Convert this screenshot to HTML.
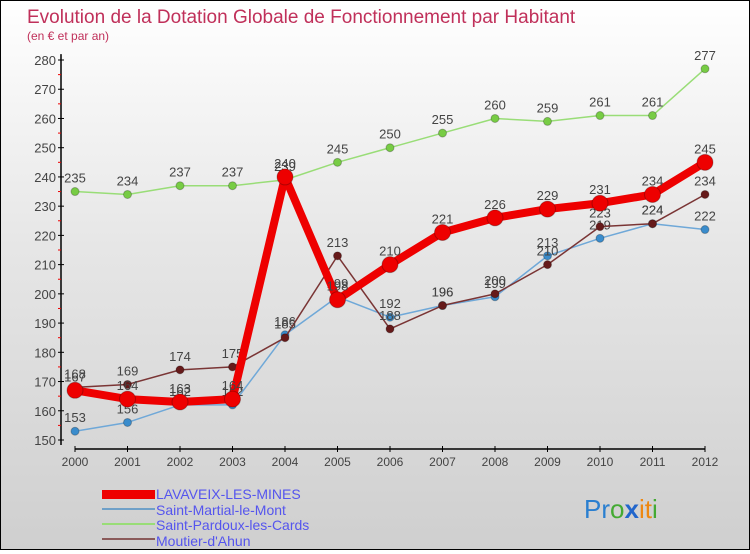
<!DOCTYPE html>
<html><head><meta charset="utf-8">
<style>
html,body{margin:0;padding:0}
body{width:750px;height:550px;overflow:hidden;font-family:"Liberation Sans",sans-serif}
#wrap{position:relative;width:748px;height:548px;border:1px solid #000;background:linear-gradient(#ffffff 0%,#e6e6e6 45%,#cfcfcf 100%)}
svg text{font-family:"Liberation Sans",sans-serif}
</style></head>
<body>
<div id="wrap">
<svg id="chart" width="748" height="548" xmlns="http://www.w3.org/2000/svg">
<text x="26" y="22" font-size="19" fill="#c0305a">Evolution de la Dotation Globale de Fonctionnement par Habitant</text>
<text x="26" y="39" font-size="12" fill="#c0305a">(en € et par an)</text>
<g id="axes"></g>
<g id="series"></g>
<g id="legend">
<rect x="101" y="489" width="53" height="9" fill="#e00"/>
<text x="155" y="498" font-size="14" fill="#5555ee">LAVAVEIX-LES-MINES</text>
<rect x="101" y="507" width="53" height="2" fill="#6fa0c8"/>
<text x="155" y="514" font-size="14" fill="#5555ee">Saint-Martial-le-Mont</text>
<rect x="101" y="522" width="53" height="2" fill="#99dd77"/>
<text x="155" y="529" font-size="14" fill="#5555ee">Saint-Pardoux-les-Cards</text>
<rect x="101" y="537" width="53" height="2" fill="#8a5a5a"/>
<text x="155" y="545" font-size="14" fill="#5555ee">Moutier-d'Ahun</text>
</g>
<text x="583" y="517" font-size="26"><tspan fill="#2a7fd0">Pr</tspan><tspan fill="#44aa33">o</tspan><tspan fill="#2266cc" font-weight="bold">x</tspan><tspan fill="#ee8811">it</tspan><tspan fill="#44aa33">i</tspan></text>
</svg>
</div>
<script>
const years=["2000","2001","2002","2003","2004","2005","2006","2007","2008","2009","2010","2011","2012"];
const lavaveix=[167,164,163,164,240,198,210,221,226,229,231,234,245];
const saintMartial=[153,156,162,162,186,199,192,196,199,213,219,224,222];
const saintPardoux=[235,234,237,237,239,245,250,255,260,259,261,261,277];
const moutier=[168,169,174,175,185,213,188,196,200,210,223,224,234];
const yTicks=[150,160,170,180,190,200,210,220,230,240,250,260,270,280];
const NS="http://www.w3.org/2000/svg";
function X(i){return 74+i*52.5;}
function Y(v){return 439-(v-150)*2.923;}
function mk(tag,attrs,parent){const e=document.createElementNS(NS,tag);for(const k in attrs)e.setAttribute(k,attrs[k]);parent.appendChild(e);return e;}
const axes=document.getElementById('axes');
const ax=mk('line',{x1:60,y1:Y(282),x2:60,y2:444,stroke:'#000','stroke-width':1.5},axes);


const xx=mk('line',{x1:74,y1:448,x2:X(12),y2:448,stroke:'#000','stroke-width':1.5},axes);


yTicks.forEach(v=>{
  mk('line',{x1:57,y1:Y(v),x2:63,y2:Y(v),stroke:'#000'},axes);
  if(v<280)mk('line',{x1:57,y1:Y(v+5),x2:60,y2:Y(v+5),stroke:'#e00'},axes);
  const t=mk('text',{x:55,y:Y(v)+5,'text-anchor':'end','font-size':13,fill:'#444'},axes);
  t.textContent=v;
  
  
});
years.forEach((y,i)=>{
  mk('line',{x1:X(i),y1:445,x2:X(i),y2:451,stroke:'#000'},axes);
  const t=mk('text',{x:X(i),y:465,'text-anchor':'middle','font-size':12,fill:'#444'},axes);
  t.textContent=y;
  
  
});
const sg=document.getElementById('series');
function draw(data,name,color,dot,w,r){
  const g=mk('g',{},sg);
  
  
  const pl=mk('polyline',{points:data.map((v,i)=>X(i)+','+Y(v)).join(' '),fill:'none',stroke:color,'stroke-width':w,'stroke-linejoin':'round'},g);
  
  
  data.forEach((v,i)=>{
    const c=mk('circle',{cx:X(i),cy:Y(v),r:r,fill:dot,stroke:'rgba(0,0,0,0.25)','stroke-width':1},g);
    
    
    const t=mk('text',{x:X(i),y:Y(v)-9,'text-anchor':'middle','font-size':13,fill:'#444'},g);
    t.textContent=v;
    
    
  });
}
draw(saintPardoux,'saint-pardoux','#99dd77','#77cc44',1.5,4);
draw(saintMartial,'saint-martial','#6fa8d8','#3a8ccc',1.5,4);
draw(moutier,'moutier','#7a3535','#661a1a',1.5,4);
draw(lavaveix,'lavaveix','#ee0000','#ee0000',8,8);
</script>
</body></html>
